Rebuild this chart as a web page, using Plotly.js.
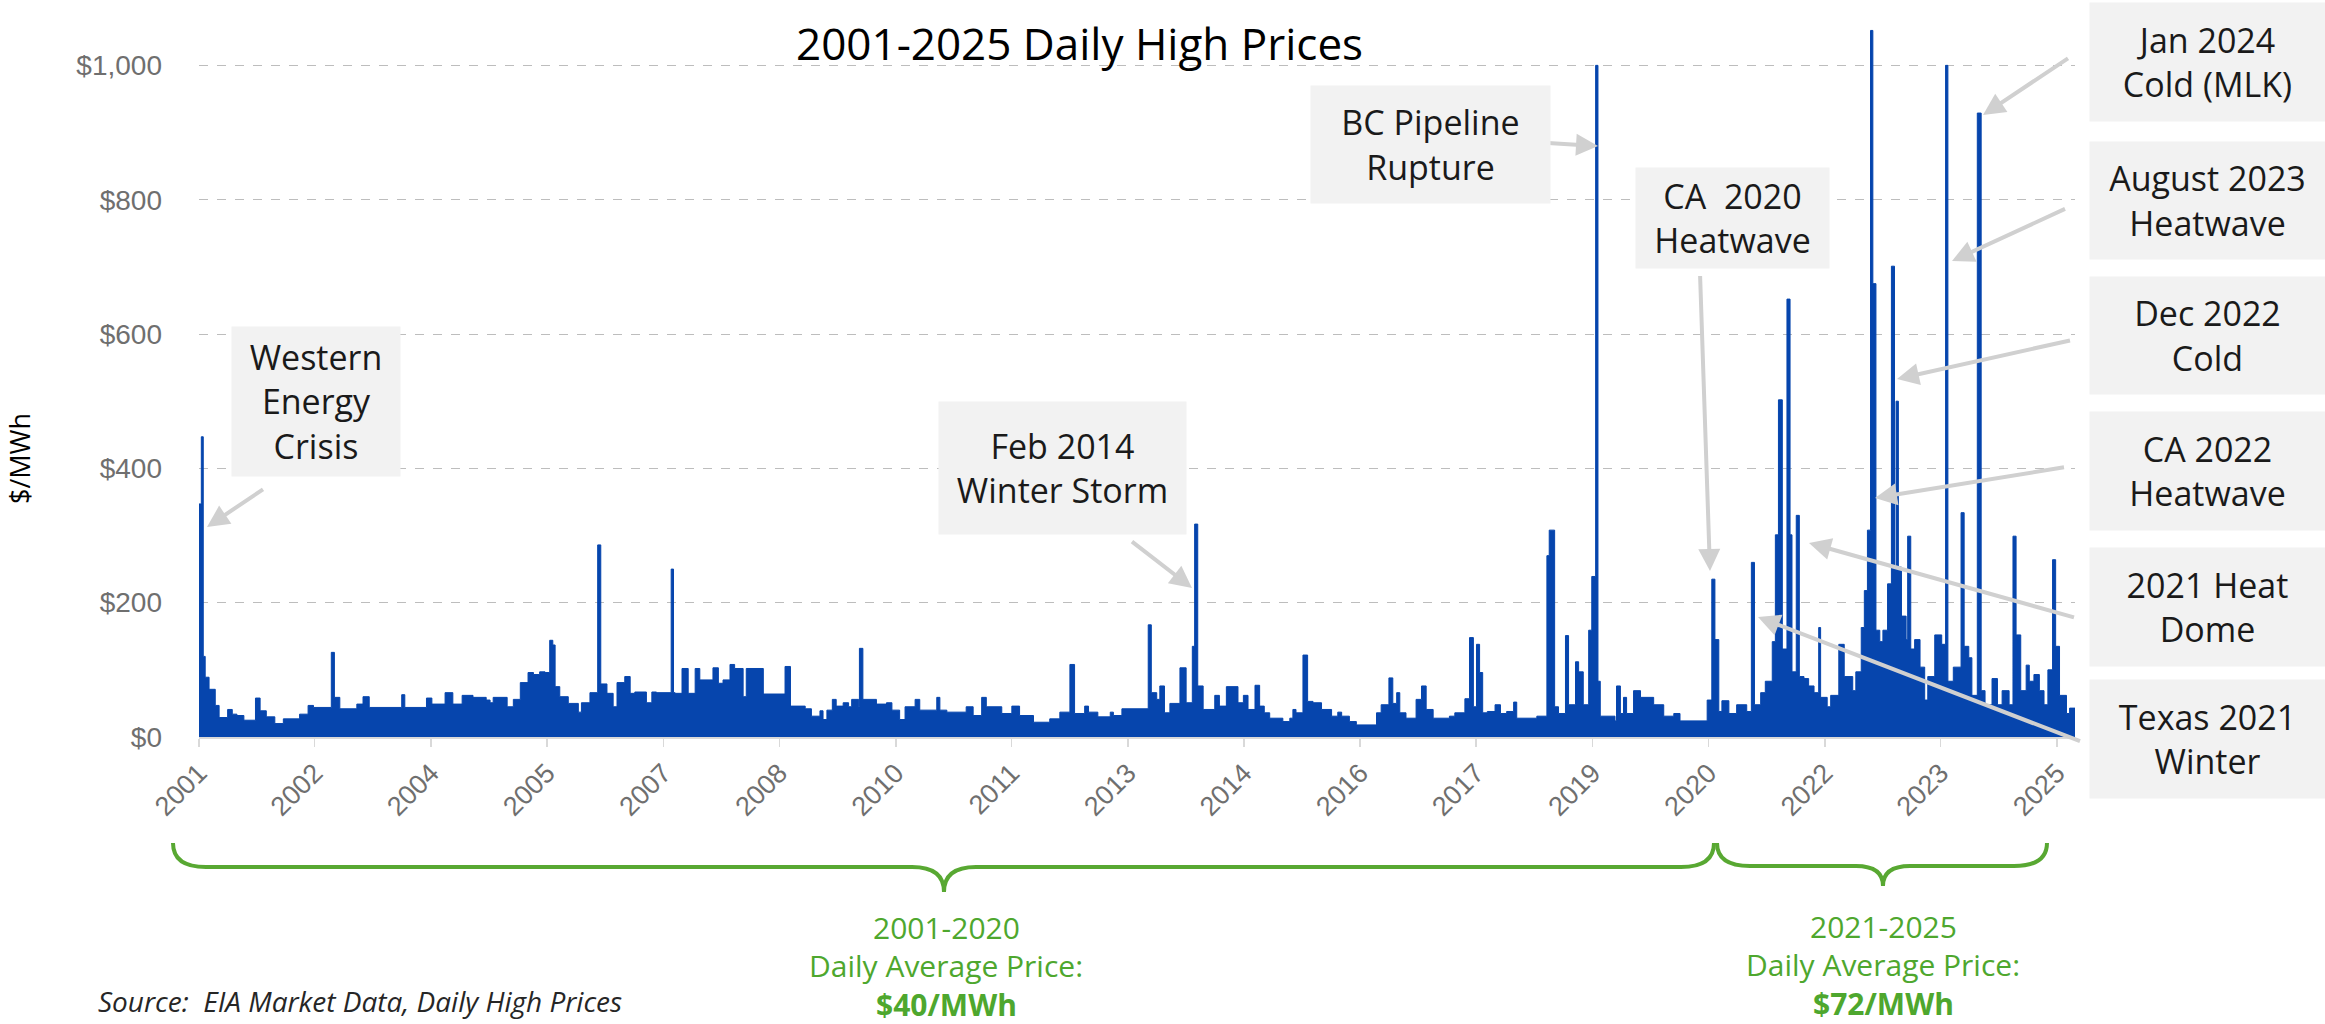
<!DOCTYPE html>
<html>
<head>
<meta charset="utf-8">
<script src="https://cdn.plot.ly/plotly-3.0.1.min.js"></script>
<style>html,body{margin:0;padding:0;background:#fff;}#chart{width:2325px;height:1024px;}</style>
</head>
<body>
<div id="chart"></div>
<script>
// ---- Data: decimal-year start of each step and the daily-high level ($/MWh) ----
const tA = [2001.00,2001.03,2001.055,2001.08,2001.13,2001.21,2001.26,2001.37,2001.43,2001.49,2001.58,2001.73,2001.79,2001.87,2001.98,2002.09,2002.30,2002.41,2002.48,2002.71,2002.75,2002.82,2003.04,2003.12,2003.20,2003.62,2003.66,2003.94,2004.01,2004.18,2004.28,2004.40,2004.54,2004.71];
const vA = [347,447,120,89,71,47,29,41,34,32,25,58,39,30,20,27,34,47,44,126,59,42,49,60,44,63,44,58,49,66,49,62,59,55];

const tB = [2004.76,2004.80,2004.98,2005.06,2005.15,2005.25,2005.32,2005.40,2005.47,2005.53,2005.57,2005.60,2005.66,2005.77,2005.90,2005.94,2006.05,2006.15,2006.19,2006.27,2006.35,2006.40,2006.50,2006.57,2006.63,2006.78,2006.85,2006.91,2007.10,2007.13,2007.15,2007.24,2007.32,2007.41,2007.47,2007.64,2007.71,2007.77,2007.86,2007.92,2008.03,2008.07,2008.29,2008.57,2008.64,2008.83,2008.91];
const vB = [51,59,45,56,81,96,93,97,96,144,137,75,60,50,37,51,66,286,79,65,45,81,90,65,67,51,67,66,250,66,65,102,65,102,85,103,80,85,108,102,60,102,64,105,46,42,31];

const tC = [2009.02,2009.06,2009.11,2009.18,2009.23,2009.32,2009.39,2009.43,2009.52,2009.53,2009.575,2009.75,2009.88,2009.95,2010.05,2010.12,2010.25,2010.31,2010.53,2010.57,2010.66,2010.91,2011.00,2011.11,2011.17,2011.37,2011.50,2011.60,2011.78,2011.99,2012.12,2012.25,2012.31,2012.44,2012.49,2012.61,2012.77,2012.81,2012.92,2013.26];
const vC = [39,26,40,56,46,51,45,56,45,132,56,49,51,40,26,45,56,40,59,40,37,45,32,59,45,35,46,32,22,27,37,108,35,46,37,30,37,32,42,167];

const tD = [2013.30,2013.37,2013.41,2013.47,2013.54,2013.67,2013.75,2013.83,2013.86,2013.90,2013.97,2014.12,2014.18,2014.27,2014.42,2014.49,2014.55,2014.64,2014.70,2014.76,2014.83,2015.00,2015.09,2015.13,2015.17,2015.26,2015.32,2015.39,2015.50,2015.63,2015.71,2015.76,2015.86,2015.95,2016.21,2016.27,2016.37,2016.42,2016.47,2016.51,2016.59,2016.72,2016.79,2016.85,2016.94,2017.15,2017.22,2017.35,2017.41,2017.46,2017.50,2017.54];
const vD = [66,56,76,36,50,103,51,135,317,76,41,62,46,75,51,62,41,77,46,36,28,23,28,41,36,122,53,51,41,31,37,31,23,18,36,48,88,50,66,36,28,56,76,41,28,31,36,57,148,45,138,96];

const tE = [2017.58,2017.64,2017.74,2017.81,2017.89,2017.98,2018.02,2018.28,2018.41,2018.44,2018.51,2018.56,2018.65,2018.69,2018.78,2018.82,2018.88,2018.95,2018.99,2019.04,2019.07,2019.10,2019.29,2019.31,2019.36,2019.40,2019.44,2019.53,2019.62,2019.79,2019.92,2020.05,2020.13,2020.48,2020.54,2020.58,2020.63,2020.67,2020.76,2020.86,2020.99,2021.05,2021.09,2021.17,2021.23,2021.32,2021.36];
const vE = [36,38,48,35,38,52,28,31,270,308,45,35,151,48,112,97,48,159,239,1000,83,31,24,76,35,59,35,69,59,48,31,35,24,55,235,145,38,54,35,48,38,260,48,66,83,142,301];

const tF = [2021.40,2021.45,2021.51,2021.55,2021.575,2021.63,2021.67,2021.73,2021.79,2021.86,2021.92,2021.945,2022.03,2022.075,2022.18,2022.25,2022.36,2022.40,2022.47,2022.51,2022.55,2022.59,2022.62,2022.66,2022.71,2022.75,2022.81,2022.86,2022.90,2022.92,2022.95,2022.99,2023.05,2023.07,2023.11,2023.16,2023.23,2023.29,2023.33,2023.42,2023.51,2023.56,2023.59,2023.66,2023.76,2023.80,2023.86,2023.90,2023.97,2024.02,2024.07,2024.16,2024.23,2024.29,2024.38,2024.43,2024.47,2024.53,2024.60,2024.64,2024.70,2024.77,2024.83,2024.88,2024.94,2024.98,2025.03,2025.12,2025.16,2025.23];
const vF = [502,131,652,301,97,330,90,87,76,66,163,59,45,62,138,90,69,97,163,218,308,1052,675,159,142,159,228,701,253,500,253,180,145,299,131,145,104,55,90,152,138,1000,83,104,334,135,118,62,929,69,48,87,48,69,48,299,152,69,107,83,93,69,48,100,264,135,62,35,43,43];

// ---- Text ----
const chartTitle = '2001-2025 Daily High Prices';
const yTitle = '$/MWh';
const sourceText = '<i>Source:\u00a0 EIA Market Data, Daily High Prices</i>';
const period1 = ['2001-2020', 'Daily Average Price:', '<b>$40/MWh</b>'];
const period2 = ['2021-2025', 'Daily Average Price:', '<b>$72/MWh</b>'];
const events = [
  'Western<br>Energy<br>Crisis',
  'Feb 2014<br>Winter Storm',
  'BC Pipeline<br>Rupture',
  'CA\u00a0 2020<br>Heatwave',
  'Jan 2024<br>Cold (MLK)',
  'August 2023<br>Heatwave',
  'Dec 2022<br>Cold',
  'CA 2022<br>Heatwave',
  '2021 Heat<br>Dome',
  'Texas 2021<br>Winter'
];

// ---- helpers ----
function yearToDate(t){
  const y = Math.floor(t);
  const s = Date.UTC(y,0,1), e = Date.UTC(y+1,0,1);
  return new Date(s + (t - y)*(e - s)).toISOString().slice(0,19).replace('T',' ');
}
const tAll = [].concat(tA,tB,tC,tD,tE,tF);
const vAll = [].concat(vA,vB,vC,vD,vE,vF);
const xAll = tAll.map(yearToDate);

// plot-area geometry (pixels)
const L = 199, R = 2075, T = 15, B = 737;
const W = R - L, H = B - T;
const px = p => (p - L) / W;
const py = p => (B - p) / H;

const BLUE = '#0645ad';
const GREEN = '#4ea72e';
const ARROW = '#d0d0d0';
const FAM = 'Open Sans, Liberation Sans, sans-serif';
const BOXFONT = {family:FAM, size:34, color:'#1a1a1a'};

const annotations = [];

// chart title
annotations.push({text:chartTitle, xref:'paper', yref:'paper', x:px(1079), y:py(12), showarrow:false,
  xanchor:'center', yanchor:'top', borderpad:0, font:{family:FAM, size:44, color:'#000'}});

// y-axis title
annotations.push({text:yTitle, xref:'paper', yref:'paper', x:px(19), y:py(459), textangle:-90,
  showarrow:false, xanchor:'center', yanchor:'middle',
  font:{family:FAM, size:27, color:'#000'}});

// source
annotations.push({text:sourceText, xref:'paper', yref:'paper', x:px(96), y:py(1022), showarrow:false,
  xanchor:'left', yanchor:'bottom', font:{family:FAM, size:28, color:'#262626'}});

// green period texts (centre y in pixels)
const greenY1 = [927, 965, 1004], greenY2 = [926, 964, 1003];
period1.forEach((s,i)=>annotations.push({text:s, xref:'paper', yref:'paper', x:px(946), y:py(greenY1[i]),
  showarrow:false, xanchor:'center', yanchor:'middle', font:{family:FAM, size:30, color:GREEN}}));
period2.forEach((s,i)=>annotations.push({text:s, xref:'paper', yref:'paper', x:px(1883), y:py(greenY2[i]),
  showarrow:false, xanchor:'center', yanchor:'middle', font:{family:FAM, size:30, color:GREEN}}));

// event boxes: [x0, x1, y0, y1] in pixels
const boxes = [
  [232, 400, 327, 476],
  [939, 1186, 402, 534],
  [1311, 1550, 86, 203],
  [1636, 1829, 168, 268],
  [2090, 2325, 3, 121],
  [2090, 2325, 142, 259],
  [2090, 2325, 277, 394],
  [2090, 2325, 412, 530],
  [2090, 2325, 548, 666],
  [2090, 2325, 680, 798]
];
// arrows: [tipX, tipY, tailX, tailY] in pixels
const arrows = [
  [207, 527, 265, 488],
  [1192, 588, 1130, 540],
  [1598, 146, 1546, 143],
  [1710, 571, 1700, 273],
  [1983, 115, 2070, 57],
  [1952, 261, 2067, 208],
  [1897, 379, 2072, 340],
  [1875, 498, 2066, 467],
  [1809, 543, 2076, 618],
  [1758, 617, 2082, 742]
];
arrows.forEach(a=>annotations.push({text:' ', xref:'paper', yref:'paper', x:px(a[0]), y:py(a[1]),
  ax:a[2]-a[0], ay:a[3]-a[1], showarrow:true, arrowcolor:ARROW, arrowwidth:4, arrowhead:2, arrowsize:1.1,
  standoff:0, startstandoff:0, font:{size:2}}));
boxes.forEach((b,i)=>annotations.push({text:events[i], xref:'paper', yref:'paper',
  x:px((b[0]+b[1])/2), y:py((b[2]+b[3])/2), xanchor:'center', yanchor:'middle',
  width:b[1]-b[0], height:b[3]-b[2], borderpad:0, bgcolor:'#f2f2f2', showarrow:false,
  align:'center', valign:'middle', font:BOXFONT}));

// braces
function P(x,y){ return px(x).toFixed(5)+','+py(y).toFixed(5); }
const brace1 = 'M'+P(173,843)+' Q'+P(173,867)+' '+P(206,867)+' L'+P(912,867)+' Q'+P(944,867)+' '+P(944,892)+
  ' Q'+P(944,867)+' '+P(976,867)+' L'+P(1681,867)+' Q'+P(1714,867)+' '+P(1714,843);
const brace2 = 'M'+P(1717,843)+' Q'+P(1717,866)+' '+P(1750,866)+' L'+P(1856,866)+' Q'+P(1883,866)+' '+P(1883,886)+
  ' Q'+P(1883,866)+' '+P(1910,866)+' L'+P(2014,866)+' Q'+P(2047,866)+' '+P(2047,843);
const shapes = [brace1, brace2].map(p=>({type:'path', xref:'paper', yref:'paper', path:p,
  line:{color:'#58a832', width:4}, fillcolor:'rgba(0,0,0,0)', layer:'above'}));

const trace = {
  x: xAll, y: vAll, type:'scatter', mode:'lines',
  line:{shape:'hv', color:BLUE, width:1},
  fill:'tozeroy', fillcolor:BLUE, hoverinfo:'skip'
};

const layout = {
  width:2325, height:1024,
  margin:{l:L, r:2325-R, t:T, b:1024-B},
  paper_bgcolor:'#fff', plot_bgcolor:'#fff',
  showlegend:false,
  xaxis:{type:'date', range:[yearToDate(2001.0), yearToDate(2025.23)], tick0:'2001-01-01', dtick:'M18',
    tickformat:'%Y', tickangle:-45, ticks:'outside', ticklen:8, tickcolor:'#d9d9d9', tickwidth:1.5,
    showline:true, linecolor:'#d9d9d9', linewidth:1.5, showgrid:false, zeroline:false,
    tickfont:{family:'Liberation Sans, Arial, sans-serif', size:27, color:'#6f6f6f'}},
  yaxis:{range:[0,1075], tick0:0, dtick:200, tickprefix:'$', tickformat:',d', ticks:'',
    showgrid:true, gridcolor:'#bdbdbd', griddash:'dash', gridwidth:1, zeroline:false, showline:false,
    ticklabelstandoff:36,
    tickfont:{family:'Liberation Sans, Arial, sans-serif', size:28, color:'#6f6f6f'}},
  annotations: annotations,
  shapes: shapes
};

Plotly.newPlot('chart', [trace], layout, {displayModeBar:false, staticPlot:true});
</script>
</body>
</html>
